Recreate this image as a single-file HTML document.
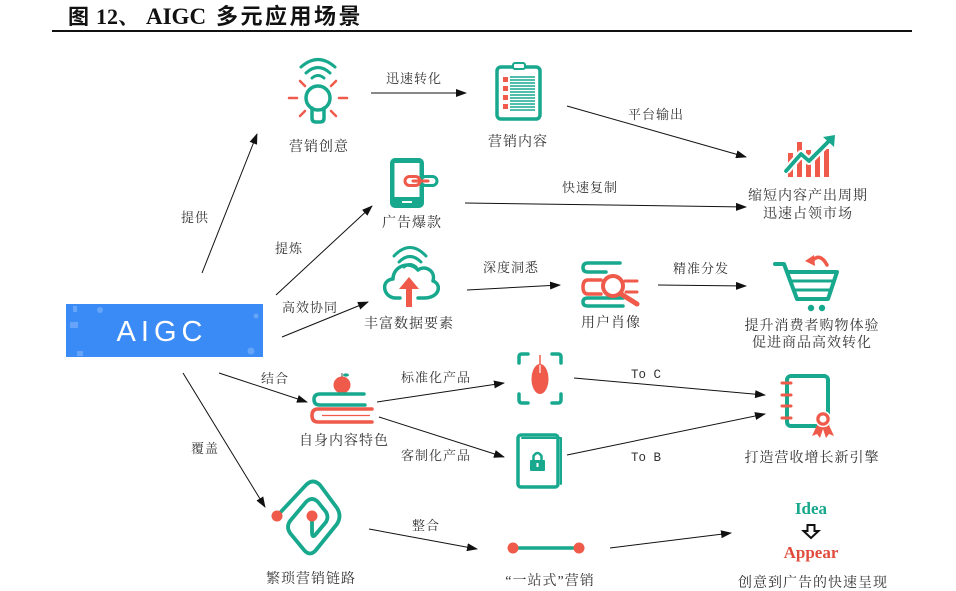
<!DOCTYPE html>
<html>
<head>
<meta charset="utf-8">
<style>
html,body{margin:0;padding:0;background:#fff;}
body{width:956px;height:591px;overflow:hidden;}
svg{display:block;}
.l{font-family:"Liberation Serif","Noto Serif CJK SC",serif;font-size:14px;fill:#333;letter-spacing:1px;}
.s{font-family:"Liberation Serif","Noto Serif CJK SC",serif;font-size:13px;fill:#333;letter-spacing:1px;}
.m{font-family:"Liberation Mono","Noto Serif CJK SC",monospace;font-size:12.5px;fill:#333;}
.t{stroke:#17a88d;fill:none;stroke-linecap:round;stroke-linejoin:round;}
.r{stroke:#ef5a4a;fill:none;stroke-linecap:round;stroke-linejoin:round;}
.ar{stroke:#111;stroke-width:1;fill:none;}
</style>
</head>
<body>
<svg width="956" height="591" viewBox="0 0 956 591" xmlns="http://www.w3.org/2000/svg">
<defs>
<marker id="a" markerWidth="11" markerHeight="8" refX="10" refY="4" orient="auto" markerUnits="userSpaceOnUse">
<path d="M0,0 L11,4 L0,8 z" fill="#111"/>
</marker>
</defs>

<!-- Title -->
<g font-weight="bold" fill="#111">
<text x="68" y="24" font-family="'Liberation Serif','Noto Sans CJK SC',sans-serif" font-size="21">图</text>
<text x="96" y="24" font-family="'Liberation Serif','Noto Serif CJK SC',serif" font-size="22">12、</text>
<text x="146" y="24" font-family="'Liberation Serif',serif" font-size="23">AIGC</text>
<text x="216" y="24" font-family="'Liberation Serif','Noto Sans CJK SC',sans-serif" font-size="22" letter-spacing="2.5">多元应用场景</text>
</g>
<rect x="52" y="30" width="860" height="2" fill="#111"/>

<!-- AIGC box -->
<rect x="66" y="304" width="197" height="53" fill="#3a8bf6"/>
<g fill="#fff" opacity="0.22">
<rect x="73" y="306" width="4" height="6"/>
<circle cx="100" cy="310" r="3"/>
<rect x="70" y="322" width="8" height="6"/>
<rect x="77" y="351" width="6" height="5"/>
<circle cx="256" cy="316" r="2.5"/>
<circle cx="251" cy="351" r="3.5"/>
</g>
<text x="162" y="341" text-anchor="middle" font-family="'Liberation Sans',sans-serif" font-size="29" fill="#fff" letter-spacing="5">AIGC</text>

<!-- Arrows -->
<g class="ar" marker-end="url(#a)">
<line x1="202" y1="273" x2="257" y2="134"/>
<line x1="276" y1="295" x2="372" y2="206"/>
<line x1="282" y1="337" x2="368" y2="302"/>
<line x1="219" y1="373" x2="307" y2="402"/>
<line x1="183" y1="373" x2="265" y2="507"/>
<line x1="371" y1="93" x2="466" y2="93"/>
<line x1="567" y1="106" x2="746" y2="157"/>
<line x1="465" y1="203" x2="746" y2="207"/>
<line x1="467" y1="290" x2="560" y2="285"/>
<line x1="658" y1="285" x2="746" y2="286"/>
<line x1="377" y1="402" x2="504" y2="383"/>
<line x1="379" y1="417" x2="504" y2="457"/>
<line x1="574" y1="378" x2="765" y2="395"/>
<line x1="567" y1="455" x2="765" y2="414"/>
<line x1="369" y1="529" x2="477" y2="549"/>
<line x1="610" y1="548" x2="731" y2="533"/>
</g>

<!-- Lightbulb -->
<g class="t" stroke-width="3">
<path d="M301,67 Q318,52 335,67"/>
<path d="M306,73 Q318,62 330,73"/>
<path d="M312,78 Q318,73 324,78"/>
</g>
<circle cx="318" cy="98" r="12" class="t" stroke-width="3.5"/>
<path d="M312,108 L312,118 Q312,122 316,122 L320,122 Q324,122 324,118 L324,108" class="t" stroke-width="3.5"/>
<g class="r" stroke-width="2.5">
<line x1="289" y1="98" x2="297" y2="98"/>
<line x1="339" y1="98" x2="347" y2="98"/>
<line x1="300" y1="81" x2="305" y2="86"/>
<line x1="336" y1="81" x2="331" y2="86"/>
<line x1="300" y1="116" x2="305" y2="111"/>
<line x1="336" y1="116" x2="331" y2="111"/>
</g>

<!-- Clipboard -->
<rect x="497" y="67" width="43" height="52" rx="4" class="t" stroke-width="3.5"/>
<rect x="513" y="63" width="12" height="6" rx="2" fill="#fff" stroke="#17a88d" stroke-width="2"/>
<g fill="#ef5a4a">
<rect x="503" y="77" width="5" height="5"/>
<rect x="503" y="86" width="5" height="5"/>
<rect x="503" y="95" width="5" height="5"/>
<rect x="503" y="104" width="5" height="5"/>
</g>
<g stroke="#17a88d" stroke-width="1.4">
<line x1="510" y1="77" x2="535" y2="77"/>
<line x1="510" y1="80" x2="535" y2="80"/>
<line x1="510" y1="83" x2="535" y2="83"/>
<line x1="510" y1="86" x2="535" y2="86"/>
<line x1="510" y1="89" x2="535" y2="89"/>
<line x1="510" y1="92" x2="535" y2="92"/>
<line x1="510" y1="95" x2="535" y2="95"/>
<line x1="510" y1="98" x2="535" y2="98"/>
<line x1="510" y1="101" x2="535" y2="101"/>
<line x1="510" y1="104" x2="535" y2="104"/>
<line x1="510" y1="107" x2="535" y2="107"/>
<line x1="510" y1="110" x2="535" y2="110"/>
</g>

<!-- Chart -->
<g fill="#ef5a4a">
<rect x="788" y="153" width="5" height="24"/>
<rect x="797" y="142" width="5" height="35"/>
<rect x="806" y="150" width="5" height="27"/>
<rect x="815" y="155" width="5" height="22"/>
<rect x="824" y="149" width="5" height="28"/>
</g>
<path d="M786,171 L801,154 L809,161 L828,142" stroke="#fff" stroke-width="8" fill="none" stroke-linejoin="round"/>
<path d="M786,171 L801,154 L809,161 L828,142" class="t" stroke-width="3.8"/>
<polygon points="823,137 835,135 834,147" fill="#17a88d"/>

<!-- Phone -->
<rect x="390" y="158" width="34" height="50" rx="5" fill="#17a88d"/>
<rect x="394.5" y="163" width="25" height="34" fill="#fff"/>
<line x1="402" y1="202" x2="412" y2="202" stroke="#fff" stroke-width="2"/>
<rect x="421" y="176.5" width="16" height="9" rx="4.5" fill="#fff" stroke="#17a88d" stroke-width="3"/>
<rect x="405" y="176.5" width="15" height="9" rx="4.5" fill="#fff" stroke="#ef5a4a" stroke-width="3"/>
<line x1="413" y1="181" x2="428" y2="181" stroke="#ef5a4a" stroke-width="3" stroke-linecap="round"/>

<!-- Cloud -->
<g class="t" stroke-width="3">
<path d="M394,256 Q410,239 426,256"/>
<path d="M399,262 Q410,251 421,262"/>
<path d="M404,267 Q410,262 416,267"/>
</g>
<path d="M400,298 L396,298 C383,298 380,280 393,279 C393,266 410,260 418,270 C424,265 436,270 433,281 C442,284 440,298 424,298 L418,298" class="t" stroke-width="3.5"/>
<polygon points="409,277 399,289 419,289" fill="#ef5a4a"/>
<rect x="406" y="288" width="6" height="19" fill="#ef5a4a"/>

<!-- User portrait -->
<path d="M620,263 L588,263 Q583,263 583,267.5 Q583,272 588,272 L606,272" class="t" stroke-width="3.5"/>
<path d="M601,280 L588,280 Q583,280 583,287 Q583,294 588,294 L601,294" class="r" stroke-width="3.5"/>
<line x1="625" y1="281" x2="637" y2="281" class="r" stroke-width="3"/>
<line x1="626" y1="292" x2="637" y2="292" class="r" stroke-width="3"/>
<path d="M623,298 L588,298 Q583,298 583,302 Q583,306 588,306 L623,306" class="t" stroke-width="3.5"/>
<circle cx="613" cy="286" r="10" fill="#fff" stroke="#ef5a4a" stroke-width="4"/>
<line x1="621" y1="294" x2="637" y2="304" stroke="#ef5a4a" stroke-width="5" stroke-linecap="round"/>

<!-- Cart -->
<path d="M775,264 L784,264 L797,299 L828,299 L837,272 L789,272" class="t" stroke-width="4"/>
<line x1="792" y1="281" x2="834" y2="281" class="t" stroke-width="3"/>
<line x1="795" y1="290" x2="831" y2="290" class="t" stroke-width="3"/>
<circle cx="811" cy="308" r="3.2" fill="#17a88d"/>
<circle cx="822" cy="308" r="3.2" fill="#17a88d"/>
<path d="M812,261 Q820,252 827,265" class="r" stroke-width="3.5"/>
<polygon points="805,261 814,255 815,266" fill="#ef5a4a"/>

<!-- Books -->
<circle cx="342" cy="385" r="8.5" fill="#ef5a4a"/>
<path d="M342,377 L342,373" stroke="#555" stroke-width="1"/>
<ellipse cx="346" cy="375" rx="3" ry="1.6" fill="#17a88d"/>
<path d="M364,394 L320,394 Q314,394 314,399.5 Q314,405 320,405 L365,405" class="t" stroke-width="3.5"/>
<path d="M372,409 L318,409 Q312,409 312,415.5 Q312,422 318,422 L372,422" class="r" stroke-width="3.5"/>
<line x1="322" y1="415.5" x2="370" y2="415.5" stroke="#ef5a4a" stroke-width="1.2"/>

<!-- Mouse -->
<g class="t" stroke-width="3.5">
<path d="M519,363 L519,357 Q519,354 522,354 L528,354"/>
<path d="M552,354 L558,354 Q561,354 561,357 L561,363"/>
<path d="M519,394 L519,400 Q519,403 522,403 L528,403"/>
<path d="M552,403 L558,403 Q561,403 561,400 L561,394"/>
</g>
<line x1="540" y1="355" x2="540" y2="365" stroke="#ef5a4a" stroke-width="1.5"/>
<ellipse cx="540" cy="379" rx="8.5" ry="15" fill="#ef5a4a"/>
<line x1="540" y1="365" x2="540" y2="373" stroke="#fff" stroke-width="1.2"/>

<!-- Lock book -->
<rect x="518" y="435" width="40" height="52" rx="3" class="t" stroke-width="3.5"/>
<path d="M522,438 L561,438 L561,484" class="t" stroke-width="2"/>
<path d="M533.5,461 L533.5,456 Q537.5,450 541.5,456 L541.5,461" class="t" stroke-width="2.5"/>
<rect x="530" y="460" width="15" height="11" rx="1" fill="#17a88d"/>
<rect x="536.5" y="463" width="2" height="4" fill="#fff"/>

<!-- Notebook -->
<rect x="787" y="376" width="41" height="50" rx="4" class="t" stroke-width="4"/>
<g class="r" stroke-width="3">
<line x1="782" y1="383" x2="791" y2="383"/>
<line x1="782" y1="395" x2="791" y2="395"/>
<line x1="782" y1="406" x2="791" y2="406"/>
<line x1="782" y1="418" x2="791" y2="418"/>
</g>
<polygon points="818,423 812,436 817,434 820,438 824,426" fill="#ef5a4a"/>
<polygon points="828,423 834,436 829,434 826,438 822,426" fill="#ef5a4a"/>
<circle cx="823" cy="419" r="7.5" fill="#ef5a4a" stroke="#fff" stroke-width="1.5"/>
<circle cx="823" cy="419" r="3.5" fill="#fff"/>

<!-- Spiral -->
<path d="M277,516 L306,485 Q313,478 320,485 L337,508 Q342,516 337,524 L316,550 Q310,557 304,550 L290,533 Q286,527 290,521 L306,502 Q312,496 318,502 L326,512 Q329,517 326,522 L316,534 Q312,539 312,532 L312,517" class="t" stroke-width="3.8"/>
<circle cx="277" cy="516" r="5.5" fill="#ef5a4a"/>
<circle cx="312" cy="516" r="5.5" fill="#ef5a4a"/>

<!-- One-stop line -->
<line x1="513" y1="548" x2="579" y2="548" stroke="#17a88d" stroke-width="3.5"/>
<circle cx="513" cy="548" r="5.5" fill="#ef5a4a"/>
<circle cx="579" cy="548" r="5.5" fill="#ef5a4a"/>

<!-- Idea / Appear -->
<text x="811" y="514" text-anchor="middle" font-family="'Liberation Serif',serif" font-weight="bold" font-size="17" fill="#17a88d">Idea</text>
<path d="M807.5,525 L814.5,525 L814.5,531 L818.5,531 L811,538 L803.5,531 L807.5,531 Z" fill="none" stroke="#111" stroke-width="2" stroke-linejoin="miter"/>
<text x="811" y="558" text-anchor="middle" font-family="'Liberation Serif',serif" font-weight="bold" font-size="17" fill="#e04c3c">Appear</text>

<!-- Node labels -->
<g class="l" text-anchor="middle">
<text x="319" y="151">营销创意</text>
<text x="518" y="146">营销内容</text>
<text x="808" y="200">缩短内容产出周期</text>
<text x="808" y="218">迅速占领市场</text>
<text x="412" y="227">广告爆款</text>
<text x="409" y="328">丰富数据要素</text>
<text x="611" y="327">用户肖像</text>
<text x="812" y="330">提升消费者购物体验</text>
<text x="812" y="347">促进商品高效转化</text>
<text x="344" y="445">自身内容特色</text>
<text x="812" y="462">打造营收增长新引擎</text>
<text x="311" y="583">繁琐营销链路</text>
<text x="550" y="585">“一站式”营销</text>
<text x="813" y="587">创意到广告的快速呈现</text>
</g>

<!-- Arrow labels -->
<g class="s" text-anchor="middle">
<text x="414" y="83">迅速转化</text>
<text x="656" y="119">平台输出</text>
<text x="590" y="192">快速复制</text>
<text x="195" y="222">提供</text>
<text x="289" y="253">提炼</text>
<text x="310" y="312">高效协同</text>
<text x="511" y="272">深度洞悉</text>
<text x="701" y="273">精准分发</text>
<text x="275" y="383">结合</text>
<text x="436" y="382">标准化产品</text>
<text x="436" y="460">客制化产品</text>
<text x="205" y="453">覆盖</text>
<text x="426" y="530">整合</text>
</g>
<g class="m" text-anchor="middle">
<text x="646" y="378">To C</text>
<text x="646" y="461">To B</text>
</g>
</svg>
</body>
</html>
